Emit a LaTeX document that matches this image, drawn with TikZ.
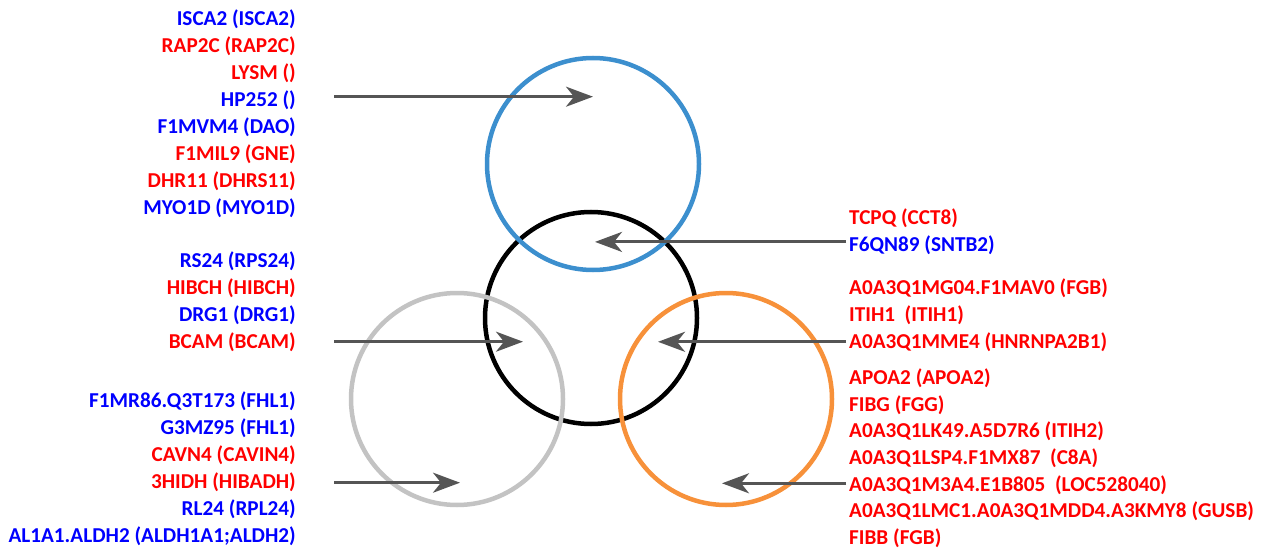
\documentclass[tikz,border=0pt]{standalone}
\usepackage{fontspec}
\setmainfont{Carlito}
\usetikzlibrary{arrows.meta,positioning}
\definecolor{ringblue}{HTML}{3C8FCE}
\definecolor{ringorange}{HTML}{F7913A}
\definecolor{ringgray}{HTML}{C3C3C3}
\definecolor{arrowgray}{HTML}{555555}
\definecolor{upred}{HTML}{FF0000}
\definecolor{downblue}{HTML}{0000FF}
\tikzset{
  ring/.style={circle, draw, line width=4.5pt, minimum size=212pt, inner sep=0pt},
  gene/.style={font=\fontsize{21.2}{25}\selectfont\bfseries, inner sep=0pt,
    text height=13.7pt, text depth=0pt, minimum height=26.5pt},
  upgene/.style={gene, text=upred},
  downgene/.style={gene, text=downblue},
  pointer/.style={-{Stealth[length=27pt,width=20pt,inset=8pt]}, draw=arrowgray, line width=3pt}
}
\begin{document}
\begin{tikzpicture}[x=1pt, y=-1pt]
  \useasboundingbox (0,0) rectangle (1274,548);

  % rings
  \node[ring, draw=black] (core) at (591,318) {};
  \node[ring, draw=ringgray] (left) at (457,399) {};
  \node[ring, draw=ringorange] (right) at (726,399) {};
  \node[ring, draw=ringblue] (top) at (593,164) {};

  % left column, top group
  \node[downgene, anchor=east] (isca2) at (296,19) {ISCA2 (ISCA2)};
  \node[upgene, below left=0pt and 0pt of isca2.south east] (rap2c) {RAP2C (RAP2C)};
  \node[upgene, below left=0pt and 0pt of rap2c.south east] (lysm) {LYSM ()};
  \node[downgene, below left=0pt and 0pt of lysm.south east] (hp252) {HP252 ()};
  \node[downgene, below left=0pt and 0pt of hp252.south east] (f1mvm4) {F1MVM4 (DAO)};
  \node[upgene, below left=0pt and 0pt of f1mvm4.south east] (f1mil9) {F1MIL9 (GNE)};
  \node[upgene, below left=0pt and 0pt of f1mil9.south east] (dhr11) {DHR11 (DHRS11)};
  \node[downgene, below left=0pt and 0pt of dhr11.south east] (myo1d) {MYO1D (MYO1D)};

  % left column, middle group
  \node[downgene, anchor=east] (rs24) at (296,261) {RS24 (RPS24)};
  \node[upgene, below left=0pt and 0pt of rs24.south east] (hibch) {HIBCH (HIBCH)};
  \node[downgene, below left=0pt and 0pt of hibch.south east] (drg1) {DRG1 (DRG1)};
  \node[upgene, below left=0pt and 0pt of drg1.south east] (bcam) {BCAM (BCAM)};

  % left column, bottom group
  \node[downgene, anchor=east] (f1mr86) at (296,401) {F1MR86.Q3T173 (FHL1)};
  \node[downgene, below left=0pt and 0pt of f1mr86.south east] (g3mz95) {G3MZ95 (FHL1)};
  \node[upgene, below left=0pt and 0pt of g3mz95.south east] (cavn4) {CAVN4 (CAVIN4)};
  \node[upgene, below left=0pt and 0pt of cavn4.south east] (hidh3) {3HIDH (HIBADH)};
  \node[downgene, below left=0pt and 0pt of hidh3.south east] (rl24) {RL24 (RPL24)};
  \node[downgene, below left=0pt and 0pt of rl24.south east] (al1a1) {AL1A1.ALDH2 (ALDH1A1;ALDH2)};

  % right column
  \node[upgene, anchor=west] (tcpq) at (849,218) {TCPQ (CCT8)};
  \node[downgene, below right=0pt and 0pt of tcpq.south west] (f6qn89) {F6QN89 (SNTB2)};

  \node[upgene, anchor=west] (mg04) at (849,288) {A0A3Q1MG04.F1MAV0 (FGB)};
  \node[upgene, below right=0pt and 0pt of mg04.south west] (itih1) {ITIH1\ \ (ITIH1)};
  \node[upgene, below right=0pt and 0pt of itih1.south west] (mme4) {A0A3Q1MME4 (HNRNPA2B1)};

  \node[upgene, anchor=west, minimum height=26.3pt] (apoa2) at (849,377.5) {APOA2 (APOA2)};
  \node[upgene, minimum height=26.3pt, below right=0pt and 0pt of apoa2.south west] (fibg) {FIBG (FGG)};
  \node[upgene, minimum height=26.3pt, below right=0pt and 0pt of fibg.south west] (lk49) {A0A3Q1LK49.A5D7R6 (ITIH2)};
  \node[upgene, minimum height=26.3pt, below right=0pt and 0pt of lk49.south west] (lsp4) {A0A3Q1LSP4.F1MX87\ \ (C8A)};
  \node[upgene, minimum height=26.3pt, below right=0pt and 0pt of lsp4.south west] (m3a4) {A0A3Q1M3A4.E1B805\ \ (LOC528040)};
  \node[upgene, minimum height=26.3pt, below right=0pt and 0pt of m3a4.south west] (lmc1) {A0A3Q1LMC1.A0A3Q1MDD4.A3KMY8 (GUSB)};
  \node[upgene, minimum height=26.3pt, below right=0pt and 0pt of lmc1.south west] (fibb) {FIBB (FGB)};

  % pointers into the rings
  \draw[pointer] ([xshift=38pt,yshift=3pt]hp252.east) -- ([yshift=3pt]hp252.east -| top.center);
  \draw[pointer] ([xshift=-3pt,yshift=3pt]f6qn89.west) -- ([xshift=4pt,yshift=3pt]f6qn89.west -| core.center);
  \draw[pointer] ([xshift=38pt]bcam.east) -- ([xshift=-68pt]bcam.east -| core.center);
  \draw[pointer] ([xshift=-3pt]mme4.west) -- ([xshift=67pt]mme4.west -| core.center);
  \draw[pointer] ([xshift=38pt,yshift=-1pt]hidh3.east) -- ([xshift=3pt,yshift=-1pt]hidh3.east -| left.center);
  \draw[pointer] ([xshift=-3pt,yshift=1pt]m3a4.west) -- ([xshift=-4pt,yshift=1pt]m3a4.west -| right.center);
\end{tikzpicture}
\end{document}
